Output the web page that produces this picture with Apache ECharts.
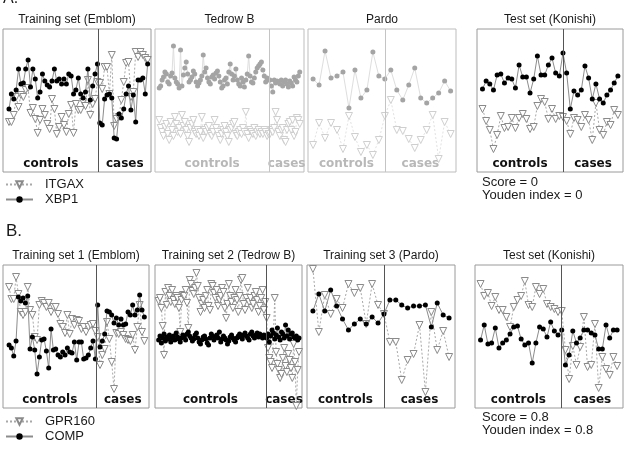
<!DOCTYPE html>
<html>
<head>
<meta charset="utf-8">
<script src="https://cdn.jsdelivr.net/npm/echarts@6/dist/echarts.min.js"></script>
<style>
  html, body { margin: 0; padding: 0; background: #fff; }
  #chart { width: 627px; height: 453px; }
</style>
</head>
<body>
<div id="chart"></div>
<script>
// expression levels (arbitrary units, 0 = bottom of panel)

// A. Training set (Emblom)
const emblomA_XBP1_controls = [63,78,73,82,103,88,89,103,112,85,103,93,74,80,98,91,87,85,91,103,91,93,88,93,88,98,96,78,82,94,78,74,80,103,72,86,98,108]
const emblomA_XBP1_cases = [49,47,73,77,78,74,34,33,58,54,63,78,86,62,77,50,92,92,94,78,108]
const emblomA_ITGAX_controls = [50,50,57,75,65,77,75,82,84,59,64,53,39,52,63,57,48,43,73,63,38,45,55,47,40,58,67,39,68,62,62,70,66,92,57,68,73,90]
const emblomA_ITGAX_cases = [89,83,105,105,78,117,46,53,55,72,90,109,110,75,80,120,115,120,117,114,112]

// A. Tedrow B
const tedrowA_XBP1_controls = [84,86,92,95,100,98,90,88,96,99,126,94,90,88,84,122,86,97,104,110,98,90,92,95,101,98,90,86,89,92,96,117,100,104,94,90,88,95,97,93,99,101,96,90,84,86,92,94,88,100,108,98,92,96,103,92,88,86,94,90,85,92,98,116,96,90,89,94,100,104,106,108,110,102,96,90,94,92]
const tedrowA_XBP1_cases = [92,86,80,92,89,91,90,88,92,86,90,92,88,85,91,89,86,95,92,90,96,100]
const tedrowA_ITGAX_controls = [52,44,40,36,45,48,38,32,50,42,36,55,48,40,44,38,57,46,50,42,36,30,44,48,52,40,38,42,36,40,55,34,42,40,44,46,38,36,40,52,44,40,36,32,38,42,46,40,36,30,42,44,48,50,38,36,40,42,38,44,40,60,38,34,42,40,38,44,36,40,42,38,40,38,42,40,36,38]
const tedrowA_ITGAX_cases = [38,42,40,44,60,52,40,36,42,44,32,30,42,48,50,42,52,36,40,54,52,48]

// A. Pardo
const pardoA_XBP1_controls = [93,87,121,94,96,100,64,102,74,82,120,96,93]
const pardoA_XBP1_cases = [102,82,72,87,104,74,69,74,79,91,81]
const pardoA_ITGAX_controls = [27,49,34,49,42,23,56,35,20,27,17,32,56]
const pardoA_ITGAX_cases = [72,42,41,33,24,32,42,57,13,50,38]

// A. Test set (Konishi)
const konishiA_XBP1_controls = [83,91,88,82,97,98,89,94,93,84,107,95,95,79,93,116,97,97,107,114,99,96,119]
const konishiA_XBP1_cases = [99,63,81,77,82,106,94,73,88,73,69,77,82,89,96]
const konishiA_ITGAX_controls = [63,51,42,23,37,56,44,45,54,44,54,58,53,43,45,66,73,70,53,63,53,56,55]
const konishiA_ITGAX_cases = [51,38,54,52,45,57,52,32,69,42,37,50,47,62,57]

// B. Training set 1 (Emblom)
const emblomB_COMP_controls = [63,60,52,67,111,107,110,105,112,59,71,58,34,51,68,69,57,40,79,58,59,53,51,56,53,60,56,55,66,48,66,66,49,50,53,60,67,49]
const emblomB_COMP_cases = [103,61,67,74,97,96,93,85,90,83,89,83,84,96,93,103,93,98,113,98,91]
const emblomB_GPR160_controls = [121,109,109,131,114,96,93,96,121,98,93,71,68,103,107,105,101,105,96,101,101,94,84,81,75,93,74,89,83,88,87,79,81,76,81,83,84,77]
const emblomB_GPR160_cases = [71,43,53,59,86,69,46,19,75,74,76,73,69,68,67,73,58,81,103,76,67]

// B. Training set 2 (Tedrow B)
const tedrowB_COMP_controls = [68,72,65,70,74,67,71,69,73,66,70,72,68,75,71,69,66,70,73,71,68,74,76,72,70,67,69,73,75,70,66,64,68,71,72,69,65,63,70,74,72,68,71,73,70,76,66,69,72,70,68,64,67,71,73,70,68,66,70,72,74,71,69,73,75,72,70,68,74,76,72,70,73,75,71,74,72,70,73,71]
const tedrowB_COMP_cases = [70,74,66,72,78,75,69,73,80,71,68,76,74,70,83,72,78,69,74,75,71,70,72,68,70]
const tedrowB_GPR160_controls = [107,110,100,82,53,116,103,120,112,106,118,108,104,112,110,100,76,108,113,112,118,105,80,128,124,117,114,120,135,122,110,96,104,108,100,112,118,102,98,124,122,115,110,118,102,108,112,120,116,100,90,104,124,112,106,100,110,118,108,96,112,128,130,104,98,110,120,106,110,100,104,112,116,108,96,102,110,118,98,106]
const tedrowB_GPR160_cases = [90,60,50,46,40,72,110,56,44,38,30,34,50,60,42,36,54,48,40,30,64,46,2,38,56]

// B. Training set 3 (Pardo)
const pardoB_COMP_controls = [97,114,97,118,102,89,78,84,89,84,91,85,94]
const pardoB_COMP_cases = [108,108,103,100,102,102,103,81,105,93,90]
const pardoB_GPR160_controls = [139,76,113,94,109,100,124,115,120,84,124,103,94]
const pardoB_GPR160_cases = [66,66,28,48,54,83,16,96,58,77,51]

// B. Test set (Konishi)
const konishiB_COMP_controls = [68,83,64,65,80,60,65,68,74,81,82,69,63,65,45,65,81,79,71,86,77,73,78]
const konishiB_COMP_cases = [43,53,77,65,70,78,78,75,73,59,59,83,70,78,78]
const konishiB_GPR160_controls = [124,112,115,102,111,98,98,91,81,101,108,112,127,103,101,121,114,119,104,101,99,96,97]
const konishiB_GPR160_cases = [58,29,62,43,61,91,41,43,84,20,51,39,33,51,42]

const panels = [
  {title: 'Training set (Emblom)', box: [3, 29, 148, 143], pad: [2.5, 1.4], sepFrac: 0.5, faded: false,
    triName: 'ITGAX', dotName: 'XBP1', tri: [emblomA_ITGAX_controls, emblomA_ITGAX_cases], dot: [emblomA_XBP1_controls, emblomA_XBP1_cases]},
  {title: 'Tedrow B', box: [155, 29, 149, 143], pad: [3, 3], sepFrac: 0.5, faded: true,
    triName: 'ITGAX', dotName: 'XBP1', tri: [tedrowA_ITGAX_controls, tedrowA_ITGAX_cases], dot: [tedrowA_XBP1_controls, tedrowA_XBP1_cases]},
  {title: 'Pardo', box: [308, 29, 148, 143], pad: [0.85, 0.9], sepFrac: 0, faded: true,
    triName: 'ITGAX', dotName: 'XBP1', tri: [pardoA_ITGAX_controls, pardoA_ITGAX_cases], dot: [pardoA_XBP1_controls, pardoA_XBP1_cases]},
  {title: 'Test set (Konishi)', box: [477, 29, 146, 143], pad: [1.5, 1.4], sepFrac: 0, faded: false,
    triName: 'ITGAX', dotName: 'XBP1', tri: [konishiA_ITGAX_controls, konishiA_ITGAX_cases], dot: [konishiA_XBP1_controls, konishiA_XBP1_cases]},
  {title: 'Training set 1 (Emblom)', box: [3, 265, 146, 143], pad: [2.6, 2.0], sepFrac: 0.5, faded: false,
    triName: 'GPR160', dotName: 'COMP', tri: [emblomB_GPR160_controls, emblomB_GPR160_cases], dot: [emblomB_COMP_controls, emblomB_COMP_cases]},
  {title: 'Training set 2 (Tedrow B)', box: [155, 265, 147, 143], pad: [2.7, 2.2], sepFrac: 0.5, faded: false,
    triName: 'GPR160', dotName: 'COMP', tri: [tedrowB_GPR160_controls, tedrowB_GPR160_cases], dot: [tedrowB_COMP_controls, tedrowB_COMP_cases]},
  {title: 'Training set 3 (Pardo)', box: [307, 265, 148, 143], pad: [1, 1], sepFrac: 0, faded: false,
    triName: 'GPR160', dotName: 'COMP', tri: [pardoB_GPR160_controls, pardoB_GPR160_cases], dot: [pardoB_COMP_controls, pardoB_COMP_cases]},
  {title: 'Test set (Konishi)', box: [475, 265, 148, 143], pad: [1.5, 1.6], sepFrac: 0, faded: false,
    triName: 'GPR160', dotName: 'COMP', tri: [konishiB_GPR160_controls, konishiB_GPR160_cases], dot: [konishiB_COMP_controls, konishiB_COMP_cases]}
]

const scoreA = ['Score = 0', 'Youden index = 0']
const scoreB = ['Score = 0.8', 'Youden index = 0.8']

function toPoints(groups) {
  const ctl = groups[0].map((v, i) => [i, v])
  const cas = groups[1].map((v, i) => [groups[0].length + i, v])
  return ctl.concat(cas)
}

const textFont = 'Liberation Sans, Arial, sans-serif'
const grids = [], xAxes = [], yAxes = [], series = [], graphics = []

panels.forEach((p, i) => {
  const nCtl = p.dot[0].length
  const n = nCtl + p.dot[1].length
  const xMin = -p.pad[0]
  const xMax = n - 1 + p.pad[1]
  const sep = nCtl - 1 + p.sepFrac

  grids.push({
    left: p.box[0], top: p.box[1], width: p.box[2], height: p.box[3],
    show: true, borderColor: p.faded ? '#bdbdbd' : '#9a9a9a', borderWidth: 1
  })
  xAxes.push({type: 'value', gridIndex: i, min: xMin, max: xMax, show: false})
  yAxes.push({type: 'value', gridIndex: i, min: 0, max: 143, show: false})

  series.push({
    type: 'line', name: p.triName, xAxisIndex: i, yAxisIndex: i,
    data: toPoints(p.tri),
    symbol: 'triangle', symbolRotate: 180, symbolSize: 7,
    itemStyle: {color: '#fff', borderColor: p.faded ? '#cfcfcf' : '#8a8a8a', borderWidth: 1},
    lineStyle: {color: p.faded ? '#e2e2e2' : '#a8a8a8', width: 1, type: [2, 2]},
    silent: true, z: 2
  })
  series.push({
    type: 'line', name: p.dotName, xAxisIndex: i, yAxisIndex: i,
    data: toPoints(p.dot),
    symbol: 'circle', symbolSize: 5,
    itemStyle: {color: p.faded ? '#a4a4a4' : '#000', borderWidth: 0},
    lineStyle: {color: p.faded ? '#dedede' : '#8c8c8c', width: 1},
    silent: true, z: 3,
    markLine: {
      silent: true, symbol: 'none', label: {show: false},
      lineStyle: {color: p.faded ? '#c4c4c4' : '#555', width: 1, type: 'solid'},
      data: [{xAxis: sep}]
    },
    markArea: {
      silent: true,
      itemStyle: {color: 'rgba(0,0,0,0)'},
      label: {
        show: true, position: 'insideBottom', distance: 2,
        fontFamily: 'DejaVu Sans', fontWeight: 'bold', fontSize: 12,
        color: p.faded ? '#b8b8b8' : '#111'
      },
      data: [
        [{name: 'controls', xAxis: xMin}, {xAxis: sep}],
        [{name: 'cases', xAxis: sep}, {xAxis: xMax}]
      ]
    }
  })

  graphics.push({
    type: 'text', silent: true,
    style: {
      text: p.title, x: p.box[0] + p.box[2] / 2, y: p.box[1] - 9,
      align: 'center', verticalAlign: 'middle',
      font: '12px ' + textFont, fill: '#1a1a1a'
    }
  })
})

graphics.push({type: 'text', silent: true, style: {text: 'A.', x: 3, y: -1, verticalAlign: 'middle', font: '16px ' + textFont, fill: '#1a1a1a'}})
graphics.push({type: 'text', silent: true, style: {text: 'B.', x: 6, y: 231, verticalAlign: 'middle', font: '17px ' + textFont, fill: '#1a1a1a'}})
scoreA.forEach((t, k) => {
  graphics.push({type: 'text', silent: true, style: {text: t, x: 482, y: 182 + k * 13.5, verticalAlign: 'middle', font: '13px ' + textFont, fill: '#1a1a1a'}})
})
scoreB.forEach((t, k) => {
  graphics.push({type: 'text', silent: true, style: {text: t, x: 482, y: 417 + k * 13.5, verticalAlign: 'middle', font: '13px ' + textFont, fill: '#1a1a1a'}})
})

const legendBase = {
  orient: 'vertical', left: 5, padding: 0, itemWidth: 27, itemHeight: 8, itemGap: 2,
  selectedMode: false,
  textStyle: {fontSize: 13, fontFamily: textFont, color: '#1a1a1a', padding: [0, 0, 0, 7]}
}

const chart = echarts.init(document.getElementById('chart'))
chart.setOption({
  animation: false,
  backgroundColor: '#fff',
  legend: [
    Object.assign({}, legendBase, {data: ['ITGAX', 'XBP1'], top: 178}),
    Object.assign({}, legendBase, {data: ['GPR160', 'COMP'], top: 415})
  ],
  grid: grids,
  xAxis: xAxes,
  yAxis: yAxes,
  series: series,
  graphic: graphics
})
</script>
</body>
</html>
